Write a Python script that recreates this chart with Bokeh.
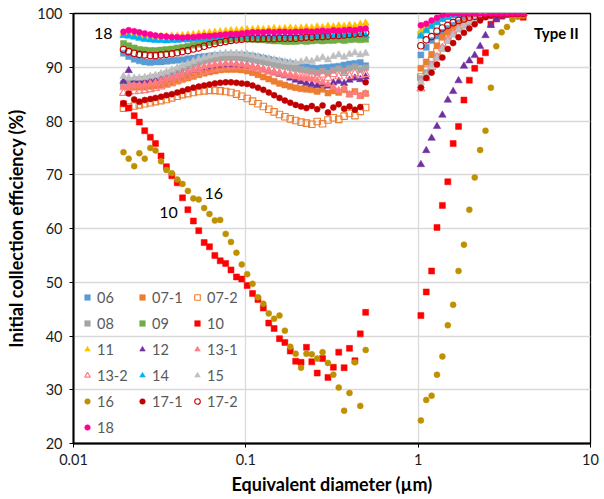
from bokeh.plotting import figure
from bokeh.models import (Legend, LegendItem, Label, FixedTicker, CustomJSTickFormatter,
                          ColumnDataSource)
from bokeh.embed import file_html
from bokeh.resources import INLINE

# ---- data ----
# SMPS-range diameters (µm) and APS-range diameters (µm)
d_left = [0.0195, 0.0209, 0.0225, 0.0241, 0.0259, 0.0279, 0.0299, 0.0322, 0.0346, 0.0372,
          0.0400, 0.0429, 0.0461, 0.0496, 0.0533, 0.0573, 0.0615, 0.0661, 0.0710, 0.0764,
          0.0820, 0.0882, 0.0947, 0.1018, 0.1094, 0.1176, 0.1263, 0.1358, 0.1459, 0.1568,
          0.1685, 0.1811, 0.1946, 0.2091, 0.2247, 0.2414, 0.2595, 0.2788, 0.2996, 0.3220,
          0.3460, 0.3718, 0.3995, 0.4294, 0.4614, 0.4958]
d_right = [1.037, 1.114, 1.197, 1.286, 1.382, 1.486, 1.596, 1.715, 1.843, 1.981,
           2.129, 2.288, 2.458, 2.642, 2.839, 3.051, 3.278, 3.523, 3.786, 4.068]

e06_l = [92.6, 92.0, 91.5, 91.2, 91.0, 90.9, 91.0, 91.0, 91.1, 91.2, 91.3, 91.4, 91.6, 91.7, 91.9, 92.0, 92.1, 92.2, 92.2, 92.3,
         92.3, 92.3, 92.3, 92.2, 92.1, 91.9, 91.7, 91.5, 91.3, 91.1, 90.9, 90.7, 90.5, 90.3, 90.1, 89.9, 89.8, 89.9, 90.0, 90.1,
         90.2, 90.4, 90.6, 90.7, 90.9, 90.3]
e06_r = [92.3, 93.7, 95.0, 95.8, 96.5, 97.2, 97.8, 98.3, 98.8, 99.2, 99.5, 99.7, 99.8, 99.9, 100.0, 100.0, 100.0, 100.0, 100.0, 100.0]

e07_1_l = [86.6, 86.4, 86.3, 86.3, 86.3, 86.4, 86.5, 86.7, 86.9, 87.1, 87.4, 87.7, 88.0, 88.3, 88.6, 88.9, 89.1, 89.3, 89.5, 89.6,
           89.6, 89.6, 89.5, 89.3, 89.0, 88.6, 88.2, 87.8, 87.4, 87.0, 86.7, 86.4, 86.2, 86.0, 85.9, 85.8, 85.5, 85.9, 85.2, 85.6,
           85.3, 85.8, 85.0, 85.5, 84.7, 85.1]
e07_1_r = [89.8, 91.0, 92.4, 94.0, 95.6, 96.5, 97.3, 97.9, 98.4, 98.8, 99.2, 99.5, 99.7, 99.9, 100.0, 100.0, 100.0, 100.0, 100.0, 100.0]

e07_2_l = [82.4, 82.6, 82.8, 83.0, 83.2, 83.4, 83.6, 83.8, 84.0, 84.3, 84.6, 84.9, 85.1, 85.3, 85.5, 85.6, 85.7, 85.7, 85.6, 85.5,
           85.3, 85.0, 84.6, 84.2, 83.7, 83.2, 82.7, 82.2, 81.7, 81.2, 80.8, 80.4, 80.1, 79.8, 79.6, 79.4, 79.9, 79.5, 80.2, 80.6,
           80.3, 80.9, 81.4, 81.0, 81.8, 82.5]
e07_2_r = [88.2, 89.6, 91.2, 92.9, 94.5, 95.8, 96.8, 97.6, 98.2, 98.7, 99.1, 99.4, 99.6, 99.8, 99.9, 100.0, 100.0, 100.0, 100.0, 100.0]

e08_l = [87.0, 87.3, 87.5, 87.7, 87.8, 88.0, 88.2, 88.5, 88.8, 89.1, 89.5, 89.9, 90.2, 90.6, 90.9, 91.2, 91.4, 91.6, 91.7, 91.8,
         91.8, 91.8, 91.7, 91.6, 91.4, 91.2, 91.0, 90.8, 90.5, 90.3, 90.1, 89.9, 89.7, 89.6, 89.4, 89.2, 89.0, 89.3, 88.9, 89.4,
         89.7, 89.2, 89.8, 90.1, 89.6, 89.9]
e08_r = [87.9, 89.0, 90.6, 92.0, 93.5, 95.0, 96.2, 97.1, 97.8, 98.4, 98.9, 99.3, 99.6, 99.8, 99.9, 100.0, 100.0, 100.0, 100.0, 100.0]

e09_l = [94.4, 94.0, 93.6, 93.3, 93.2, 93.1, 93.1, 93.2, 93.3, 93.4, 93.6, 93.7, 93.9, 94.1, 94.3, 94.5, 94.6, 94.8, 95.0, 95.1,
         95.2, 95.3, 95.3, 95.3, 95.2, 95.1, 95.1, 95.0, 94.9, 94.9, 94.8, 94.8, 94.8, 94.9, 94.8, 94.9, 95.0, 94.9, 95.0, 95.0,
         95.1, 95.0, 95.1, 95.2, 95.1, 95.2]
e09_r = [96.1, 97.0, 97.8, 98.5, 99.1, 99.5, 99.8, 99.9, 100.0, 100.0, 100.0, 100.0, 100.0, 100.0, 100.0, 100.0, 100.0, 100.0, 100.0, 100.0]

e10_l = [83.2, 82.4, 81.0, 79.8, 78.2, 77.0, 75.8, 73.5, 71.5, 69.8, 68.5, 65.7, 63.5, 61.4, 59.6, 57.4, 56.6, 55.0, 54.0, 53.5,
         52.3, 51.0, 50.6, 49.4, 47.9, 46.8, 45.2, 42.4, 41.4, 39.5, 38.8, 37.2, 35.3, 35.1, 37.9, 35.2, 33.1, 35.8, 32.3, 34.2,
         37.0, 34.1, 37.7, 35.4, 40.4, 44.4]
e10_r = [43.8, 48.2, 52.1, 60.2, 64.3, 68.7, 75.8, 79.0, 83.9, 87.6, 89.8, 91.2, 92.7, 98.0, 99.0, 99.5, 99.8, 100.0, 100.0, 99.3]

e11_l = [96.3, 96.2, 96.0, 95.9, 95.8, 95.8, 95.7, 95.7, 95.7, 95.8, 95.8, 95.9, 96.0, 96.1, 96.2, 96.3, 96.4, 96.5, 96.6, 96.7,
         96.8, 96.8, 96.9, 97.0, 97.0, 97.1, 97.0, 97.1, 97.2, 97.1, 97.2, 97.3, 97.2, 97.3, 97.4, 97.3, 97.5, 97.4, 97.6, 97.5,
         97.7, 97.6, 97.8, 97.7, 98.0, 98.2]
e11_r = [96.7, 97.6, 98.3, 98.9, 99.4, 99.7, 99.9, 100.0, 100.0, 100.0, 100.0, 100.0, 100.0, 100.0, 100.0, 100.0, 100.0, 100.0, 100.0, 100.0]

e12_l = [87.4, 89.4, 87.6, 87.5, 87.4, 87.4, 87.5, 87.6, 87.8, 88.1, 88.4, 88.8, 89.1, 89.4, 89.7, 89.9, 90.1, 90.3, 90.4, 90.5,
         90.5, 90.5, 90.4, 90.3, 90.1, 89.9, 89.6, 89.3, 89.0, 88.7, 88.4, 88.0, 87.6, 87.3, 87.0, 86.8, 86.6, 86.9, 86.5, 87.1,
         87.4, 87.0, 87.6, 88.0, 87.7, 88.2]
e12_r = [71.9, 74.5, 76.8, 79.0, 81.1, 83.9, 85.5, 87.5, 90.2, 91.2, 92.2, 93.9, 95.9, 97.8, 98.9, 99.5, 99.8, 100.0, 100.0, 100.0]

e13_1_l = [86.2, 86.5, 86.6, 86.7, 86.8, 87.0, 87.2, 87.5, 87.8, 88.1, 88.4, 88.8, 89.2, 89.5, 89.8, 90.1, 90.3, 90.5, 90.6, 90.7,
           90.7, 90.6, 90.5, 90.3, 90.1, 89.9, 89.6, 89.4, 89.1, 88.9, 88.7, 88.4, 88.2, 88.0, 87.9, 87.8, 87.5, 87.2, 86.8, 86.3,
           85.7, 86.0, 84.9, 85.3, 84.6, 85.1]
e13_1_r = [86.6, 88.4, 90.3, 92.0, 93.7, 95.2, 96.4, 97.3, 98.0, 98.6, 99.0, 99.4, 99.6, 99.8, 99.9, 100.0, 100.0, 100.0, 100.0, 100.0]

e13_2_l = [85.2, 85.4, 85.5, 85.6, 85.7, 85.9, 86.1, 86.4, 86.7, 87.0, 87.4, 87.8, 88.2, 88.6, 88.9, 89.2, 89.5, 89.7, 89.9, 90.0,
           90.1, 90.1, 90.1, 90.0, 89.9, 89.7, 89.5, 89.2, 89.0, 88.8, 88.6, 88.5, 88.4, 88.4, 88.3, 88.5, 88.2, 88.6, 88.0, 88.7,
           88.3, 88.9, 88.4, 88.8, 88.5, 88.7]
e13_2_r = [86.0, 88.0, 90.0, 91.8, 93.5, 95.0, 96.2, 97.2, 97.9, 98.5, 99.0, 99.3, 99.6, 99.8, 99.9, 100.0, 100.0, 100.0, 100.0, 100.0]

e14_l = [95.9, 95.8, 95.6, 95.4, 95.2, 95.1, 95.0, 95.0, 94.9, 95.0, 95.0, 95.1, 95.1, 95.2, 95.3, 95.4, 95.4, 95.5, 95.6, 95.6,
         95.7, 95.7, 95.8, 95.8, 95.8, 95.8, 95.9, 95.8, 95.8, 95.9, 95.8, 95.8, 95.9, 95.8, 95.9, 95.9, 95.8, 95.9, 95.9, 95.8,
         96.0, 95.9, 96.0, 96.1, 96.0, 95.9]
e14_r = [95.8, 96.8, 97.6, 98.3, 98.9, 99.3, 99.6, 99.8, 100.0, 100.0, 100.0, 100.0, 100.0, 100.0, 100.0, 100.0, 100.0, 100.0, 100.0, 100.0]

e15_l = [88.3, 88.1, 88.0, 88.0, 88.1, 88.3, 88.5, 88.8, 89.1, 89.5, 89.9, 90.3, 90.7, 91.1, 91.5, 91.8, 92.1, 92.3, 92.5, 92.6,
         92.6, 92.6, 92.5, 92.4, 92.2, 92.0, 91.8, 91.6, 91.4, 91.2, 91.0, 90.9, 90.8, 91.0, 91.3, 91.1, 91.5, 91.8, 91.4, 92.0,
         92.3, 91.9, 92.4, 92.7, 92.3, 92.6]
e15_r = [87.2, 88.5, 90.2, 91.8, 93.4, 94.8, 96.0, 97.0, 97.8, 98.4, 98.9, 99.3, 99.6, 99.8, 100.0, 100.0, 100.0, 100.0, 100.0, 100.0]

e16_l = [74.2, 73.0, 71.6, 74.0, 73.0, 75.0, 74.5, 72.5, 70.9, 70.3, 69.1, 68.3, 67.0, 65.6, 65.4, 63.8, 62.7, 61.5, 61.6, 59.0,
         57.5, 55.5, 53.3, 51.5, 49.7, 47.2, 46.0, 44.2, 43.2, 43.8, 41.0, 38.0, 36.7, 34.1, 36.7, 36.6, 35.8, 37.0, 35.0, 32.8,
         30.4, 26.1, 29.4, 35.1, 27.0, 37.4]
e16_r = [24.3, 28.1, 28.9, 32.8, 36.2, 42.0, 45.8, 52.1, 57.0, 63.5, 69.5, 74.6, 78.2, 86.2, 93.9, 96.5, 97.5, 98.9, 99.4, 99.6]

e17_1_l = [83.3, 85.1, 84.0, 83.6, 83.9, 84.1, 84.3, 84.5, 84.8, 85.0, 85.3, 85.6, 85.9, 86.2, 86.4, 86.6, 86.8, 87.0, 87.1, 87.2,
           87.2, 87.1, 87.0, 86.9, 86.6, 86.2, 85.8, 85.3, 84.8, 84.3, 83.8, 83.4, 83.0, 82.7, 82.4, 82.8, 82.2, 82.9, 81.6, 82.5,
           83.1, 82.3, 82.7, 82.1, 82.6, 87.2]
e17_1_r = [86.2, 88.0, 89.0, 90.5, 91.8, 93.4, 94.5, 95.6, 96.4, 97.2, 98.0, 98.7, 99.3, 99.6, 99.8, 100.0, 100.0, 100.0, 100.0, 100.0]

e17_2_l = [93.3, 92.9, 92.6, 92.4, 92.3, 92.2, 92.2, 92.3, 92.4, 92.5, 92.7, 92.9, 93.1, 93.4, 93.6, 93.9, 94.2, 94.4, 94.6, 94.8,
           95.0, 95.1, 95.2, 95.3, 95.3, 95.3, 95.3, 95.3, 95.3, 95.4, 95.4, 95.4, 95.4, 95.5, 95.6, 95.6, 95.7, 95.7, 95.8, 95.9,
           95.9, 96.0, 96.1, 96.2, 96.3, 96.4]
e17_2_r = [94.0, 95.1, 95.7, 96.7, 97.3, 97.8, 98.3, 98.7, 99.0, 99.3, 99.5, 99.7, 99.8, 99.9, 100.0, 100.0, 100.0, 100.0, 100.0, 100.0]

e18_l = [96.6, 96.9, 96.7, 96.5, 96.3, 96.1, 95.9, 95.8, 95.7, 95.6, 95.6, 95.5, 95.6, 95.6, 95.7, 95.8, 95.8, 95.9, 96.0, 96.1,
         96.2, 96.2, 96.3, 96.4, 96.5, 96.5, 96.5, 96.6, 96.5, 96.6, 96.6, 96.5, 96.6, 96.6, 96.7, 96.6, 96.7, 96.8, 96.7, 96.9,
         96.8, 96.9, 97.0, 96.9, 97.1, 97.2]
e18_r = [97.8, 98.1, 98.7, 99.2, 99.7, 99.9, 100.0, 100.0, 100.0, 100.0, 100.0, 100.0, 100.0, 100.0, 100.0, 100.0, 100.0, 100.0, 100.0, 100.0]

labels = ["06", "07-1", "07-2", "08", "09", "10", "11", "12", "13-1", "13-2", "14", "15", "16", "17-1", "17-2", "18"]
x_ticks = [0.01, 0.1, 1, 10]
y_ticks = [20, 30, 40, 50, 60, 70, 80, 90, 100]

# ---- styles ----
series = [
    (e06_l, e06_r, "square", "#5B9BD5", False),
    (e07_1_l, e07_1_r, "square", "#ED7D31", False),
    (e07_2_l, e07_2_r, "square", "#ED7D31", True),
    (e08_l, e08_r, "square", "#A5A5A5", False),
    (e09_l, e09_r, "square", "#70AD47", False),
    (e10_l, e10_r, "square", "#FF0000", False),
    (e11_l, e11_r, "triangle", "#FFC000", False),
    (e12_l, e12_r, "triangle", "#7030A0", False),
    (e13_1_l, e13_1_r, "triangle", "#FF7C80", False),
    (e13_2_l, e13_2_r, "triangle", "#FF7C80", True),
    (e14_l, e14_r, "triangle", "#00B0F0", False),
    (e15_l, e15_r, "triangle", "#BFBFBF", False),
    (e16_l, e16_r, "circle", "#BF9000", False),
    (e17_1_l, e17_1_r, "circle", "#C00000", False),
    (e17_2_l, e17_2_r, "circle", "#C00000", True),
    (e18_l, e18_r, "circle", "#FF0099", False),
]

FONT = "Lato"

p = figure(width=604, height=499, x_axis_type="log", x_range=(0.01, 10), y_range=(20, 100),
           output_backend="svg", toolbar_location=None,
           min_border_left=73, min_border_right=14, min_border_top=13, min_border_bottom=56)
p.background_fill_color = "white"
p.border_fill_color = "white"
p.outline_line_color = "black"
p.outline_line_width = 1.3

items = []
msize = {"square": 6, "triangle": 7.5, "circle": 6}
for name, (yl, yr, marker, color, hollow) in zip(labels, series):
    src = ColumnDataSource(dict(x=d_left + d_right, y=yl + yr))
    if hollow:
        r = p.scatter("x", "y", source=src, marker=marker, size=msize[marker] + 0.5,
                      line_color=color, fill_color="white", fill_alpha=0.0, line_width=1.1)
    else:
        r = p.scatter("x", "y", source=src, marker=marker, size=msize[marker],
                      line_color=color, fill_color=color, line_width=0.5)
    items.append(LegendItem(label=name, renderers=[r]))

legend = Legend(items=items, orientation="horizontal", ncols=3,
                location=(7, 6), padding=0, margin=0, spacing=6,
                glyph_width=14, glyph_height=20, label_height=20, label_width=32,
                label_standoff=3, border_line_color=None, background_fill_alpha=0,
                label_text_font=FONT, label_text_font_size="14.5px", label_text_color="#595959")
p.add_layout(legend, "center")

# axes
p.xaxis.ticker = FixedTicker(ticks=x_ticks)
p.xaxis.formatter = CustomJSTickFormatter(code="return tick.toString();")
p.yaxis.ticker = FixedTicker(ticks=y_ticks)
p.xgrid.ticker = FixedTicker(ticks=x_ticks)
p.ygrid.ticker = FixedTicker(ticks=y_ticks)
for g in (p.xgrid, p.ygrid):
    g.grid_line_color = "#d9d9d9"
    g.grid_line_width = 1.3
for ax in (p.xaxis, p.yaxis):
    ax.axis_line_color = "black"
    ax.axis_line_width = 2
    ax.major_tick_in = 0
    ax.major_tick_out = 4
    ax.major_tick_line_color = "black"
    ax.minor_tick_line_color = None
    ax.major_label_text_font = FONT
    ax.major_label_text_font_size = "14.5px"
    ax.major_label_text_color = "#1a1a1a"
    ax.axis_label_text_font = FONT
    ax.axis_label_text_font_style = "bold"
    ax.axis_label_text_font_size = "18px"
    ax.axis_label_text_color = "black"
p.xaxis.axis_label = "Equivalent diameter (µm)"
p.yaxis.axis_label = "Initial collection efficiency (%)"
p.xaxis.major_label_standoff = 6
p.yaxis.major_label_standoff = 7
p.xaxis.axis_label_standoff = 5
p.yaxis.axis_label_standoff = 7

# annotations
for txt, xx, yy, bold in [("18", 0.0149, 96.3, False), ("16", 0.0652, 66.5, False),
                          ("10", 0.0356, 63.0, False), ("Type II", 6.34, 96.3, True)]:
    p.add_layout(Label(x=xx, y=yy, text=txt, text_align="center", text_baseline="middle",
                       text_font=FONT, text_font_size="15px" if bold else "16px",
                       text_font_style="bold" if bold else "normal", text_color="black"))

open("out.html", "w").write(file_html(p, INLINE))
